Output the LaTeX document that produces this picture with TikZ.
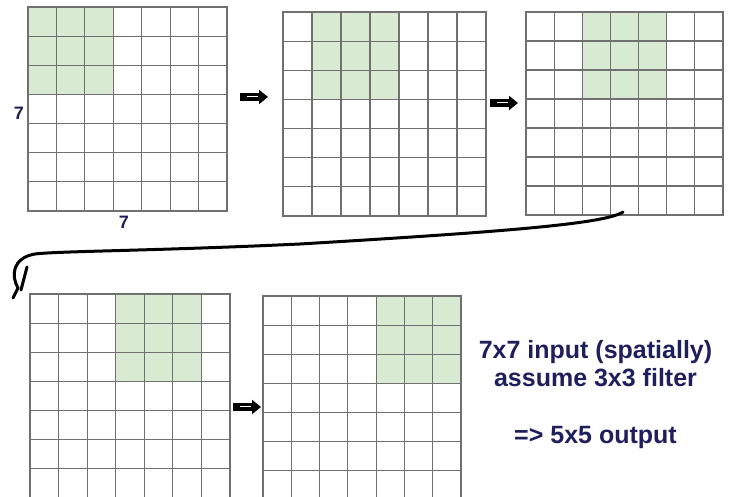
\documentclass[tikz,border=0pt]{standalone}
\usepackage{fontspec}
\setsansfont{Liberation Sans}
\usetikzlibrary{arrows.meta,positioning}
\definecolor{windowgreen}{HTML}{D9EAD3}
\definecolor{cellgray}{HTML}{707070}
\definecolor{textnavy}{HTML}{1F1F5C}

\begin{document}
\begin{tikzpicture}[x=0.5pt, y=-0.5pt,
    cell/.style={draw=cellgray, line width=0.6pt, line cap=rect},
    window/.style={fill=windowgreen},
    dim/.style={text=textnavy, font=\sffamily\bfseries\fontsize{9}{10}\selectfont, inner sep=0pt},
    note/.style={text=textnavy, font=\sffamily\bfseries\fontsize{12.5}{14.25}\selectfont, align=center, inner sep=0pt},
    slide/.style={line width=4pt, -{Triangle[length=4.5pt, width=7pt]}},
    shaftline/.style={white, line width=0.5pt},
    wrap/.style={line width=1.5pt, line cap=round, line join=round},
  ]
  \useasboundingbox (0,0) rectangle (729,497);
  % 7x7 grids, the 3x3 window moves one cell per step
  \foreach \gx/\gy/\gw/\gh/\gs in {28/7/199/204/0, 283/12/203/204/1, 526/12/197/203/2, 30/294/200/204/3, 263/296/198/204/4} {
    \fill[window] ({\gx+\gs*\gw/7},\gy) rectangle ({\gx+(\gs+3)*\gw/7},{\gy+3*\gh/7});
    \foreach \i in {0,...,7} {
      \draw[cell] ({\gx+\i*\gw/7},\gy) -- ({\gx+\i*\gw/7},{\gy+\gh});
      \draw[cell] (\gx,{\gy+\i*\gh/7}) -- ({\gx+\gw},{\gy+\i*\gh/7});
    }
  }
  \node[dim] (rows) at (19,113) {7};
  \node[dim] (cols) at (124,222) {7};
  % step arrows
  \foreach \s/\ax/\ay in {step1/240/97, step2/490/103, step3/233/407} {
    \coordinate (\s a) at (\ax,\ay);
    \coordinate (\s b) at (\ax+28,\ay);
    \draw[slide] (\s a) -- (\s b);
    \draw[shaftline] ([xshift=3.5pt]\s a) -- ([xshift=-5pt]\s b);
  }
  % wrap to next row
  \coordinate (wrapfrom) at (623,212);
  \coordinate (wrapto) at (13,298);
  \draw[wrap] (wrapfrom) .. controls (605,224) and (500,232) .. (300,244) .. controls (150,251) and (60,251) .. (35,254) .. controls (12,258) and (11,276) .. (18,288) -- (wrapto);
  \draw[wrap] (27,267) .. controls (24,278) .. (21,290);
  \node[note] (summary) at (595.5,394.5) {7x7 input (spatially)\\assume 3x3 filter\\[14pt]=> 5x5 output};
\end{tikzpicture}
\end{document}
